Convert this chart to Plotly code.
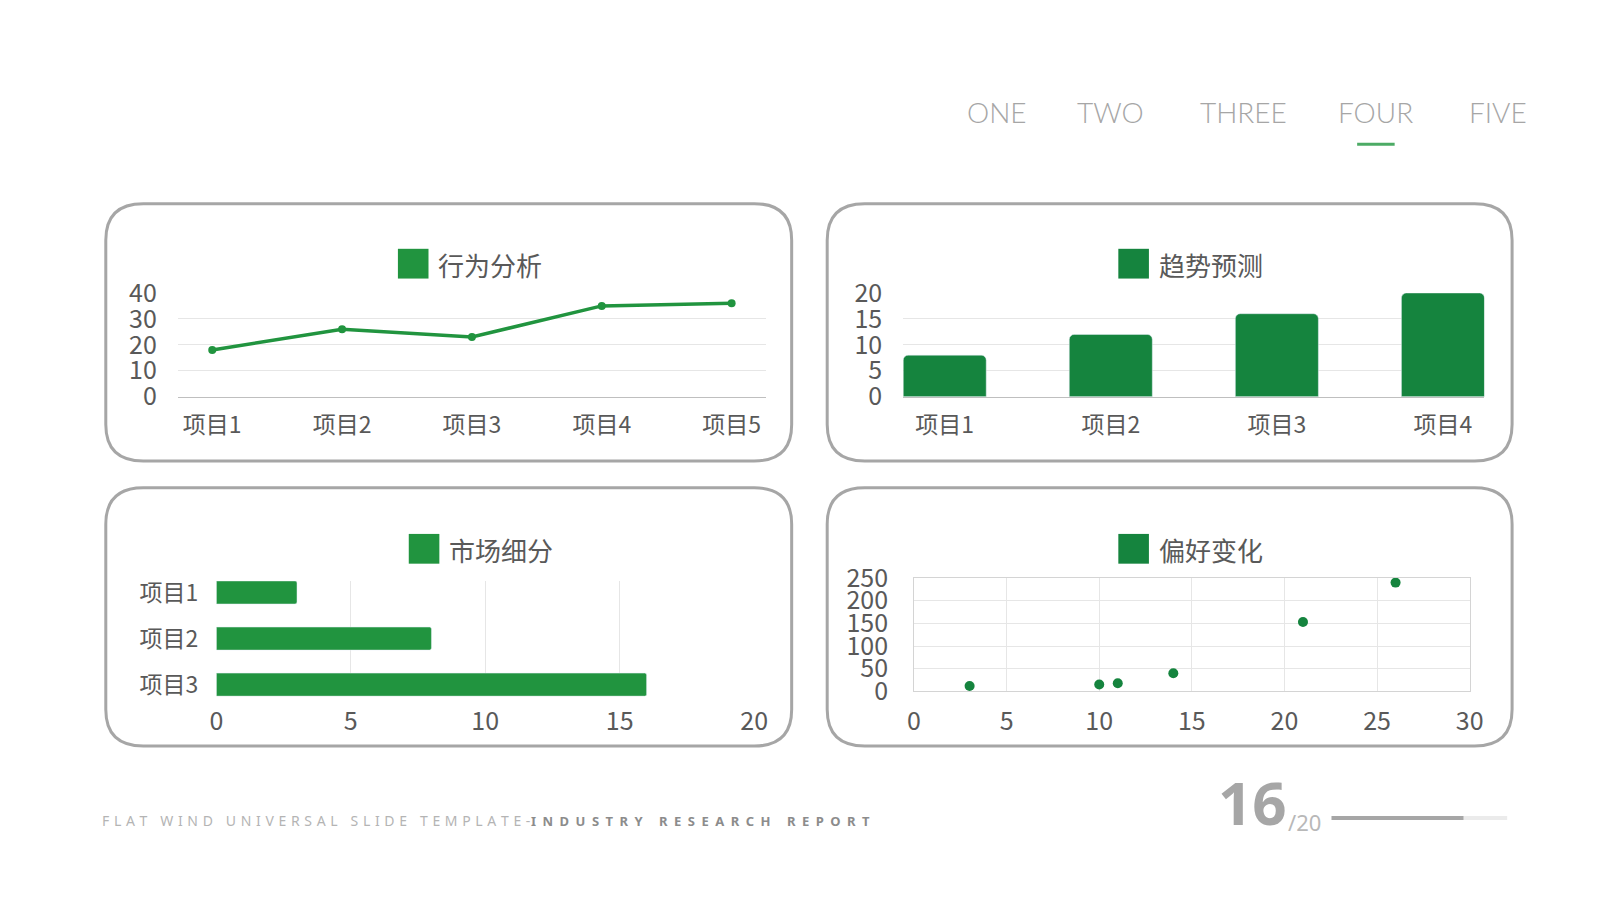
import plotly.graph_objects as go

W, H = 1600, 900

# data
line_cats = ["项目1", "项目2", "项目3", "项目4", "项目5"]
line_vals = [18, 26, 23, 35, 36]

col_cats = ["项目1", "项目2", "项目3", "项目4"]
col_vals = [8, 12, 16, 20]

bar_cats = ["项目1", "项目2", "项目3"]
bar_vals = [3, 8, 16]

scatter_x = [3, 10, 11, 14, 21, 26]
scatter_y = [12, 15, 18, 40, 153, 240]

panel_titles = ["行为分析", "趋势预测", "市场细分", "偏好变化"]
nav_items = ["ONE", "TWO", "THREE", "FOUR", "FIVE"]
active_nav = "FOUR"
page_no, page_total = "16", "/20"
footer_light = "FLAT WIND UNIVERSAL SLIDE TEMPLATE-"
footer_bold = "INDUSTRY RESEARCH REPORT"

GREEN = "#21943f"
DARK = "#15843e"
GRID = "#e6e6e6"
AXIS = "#bfbfbf"
TXT = "#595959"
BORDER = "#a6a6a6"
CJK = "Noto Sans CJK SC"


def px(x):
    return x / W


def py(y):
    return 1 - y / H


def round_box(x0, y0, x1, y1, r=38):
    # rounded rectangle in paper units, pixel inputs
    rx, ry = r / W, r / H
    a, b, c, d = px(x0), px(x1), py(y0), py(y1)
    return (f"M {a + rx},{c} L {b - rx},{c} Q {b},{c} {b},{c - ry} "
            f"L {b},{d + ry} Q {b},{d} {b - rx},{d} L {a + rx},{d} "
            f"Q {a},{d} {a},{d + ry} L {a},{c - ry} Q {a},{c} {a + rx},{c} Z")


fig = go.Figure()

fig.add_trace(go.Scatter(x=line_cats, y=line_vals, mode="lines+markers",
                         line=dict(color=GREEN, width=3.5),
                         marker=dict(color=GREEN, size=8),
                         xaxis="x", yaxis="y"))
fig.add_trace(go.Bar(x=col_cats, y=col_vals,
                     marker=dict(color=DARK, cornerradius=5),
                     xaxis="x2", yaxis="y2"))
fig.add_trace(go.Bar(x=bar_vals, y=bar_cats, orientation="h",
                     marker=dict(color=GREEN, cornerradius=2),
                     xaxis="x3", yaxis="y3"))
fig.add_trace(go.Scatter(x=scatter_x, y=scatter_y, mode="markers",
                         marker=dict(color=DARK, size=10),
                         xaxis="x4", yaxis="y4"))

cat_font = dict(family=CJK, size=23, color=TXT)
num_font = dict(family=CJK, size=25, color=TXT)
base = dict(ticks="", zeroline=False, fixedrange=True)

fig.update_layout(
    width=W, height=H,
    margin=dict(l=0, r=0, t=0, b=0),
    paper_bgcolor="white", plot_bgcolor="white",
    showlegend=False, bargap=0.5,
    xaxis=dict(base, domain=[px(165), px(761)], showgrid=False,
               showline=True, linecolor=AXIS, tickfont=cat_font,
               ticklabelstandoff=8),
    yaxis=dict(base, domain=[py(384), py(276)], range=[0, 40], dtick=10,
               gridcolor=GRID, tickfont=num_font, ticklabelstandoff=20),
    xaxis2=dict(base, domain=[px(900), px(1489)], range=[-0.25, 3.25],
                showgrid=False, showline=True, linecolor=AXIS,
                tickfont=cat_font, ticklabelstandoff=8, anchor="y2"),
    yaxis2=dict(base, domain=[py(384), py(276)], range=[0, 20], dtick=5,
                gridcolor=GRID, tickfont=num_font, ticklabelstandoff=20,
                anchor="x2"),
    xaxis3=dict(base, domain=[px(204), px(749)], range=[0, 20], dtick=5,
                gridcolor=GRID, tickfont=num_font, ticklabelstandoff=8,
                anchor="y3"),
    yaxis3=dict(base, domain=[py(696), py(576)], range=[2.25, -0.25],
                showgrid=False, tickfont=cat_font, ticklabelstandoff=17,
                anchor="x3"),
    xaxis4=dict(base, domain=[px(911), px(1474)], range=[0, 30], dtick=5,
                gridcolor=GRID, showline=True, linecolor="#d4d4d4",
                mirror=True, tickfont=num_font, ticklabelstandoff=8,
                anchor="y4"),
    yaxis4=dict(base, domain=[py(691), py(573)], range=[0, 250], dtick=50,
                gridcolor=GRID, showline=True, linecolor="#d4d4d4",
                mirror=True, tickfont=num_font, ticklabelstandoff=20,
                anchor="x4"),
)

shapes = []
annotations = []

# panel frames and legend keys
boxes = [(92, 183, 787, 451), (823, 183, 1517, 451),
         (92, 479, 787, 748), (823, 479, 1517, 748)]
keys = [(388, 230, GREEN), (1118, 230, DARK), (399, 527, GREEN), (1118, 527, DARK)]
for (x0, y0, x1, y1), (kx, ky, kc), title in zip(boxes, keys, panel_titles):
    shapes.append(dict(type="path", xref="paper", yref="paper",
                       path=round_box(x0, y0, x1, y1),
                       line=dict(color=BORDER, width=3), layer="below"))
    shapes.append(dict(type="rect", xref="paper", yref="paper",
                       x0=px(kx), x1=px(kx + 31), y0=py(ky + 31), y1=py(ky),
                       fillcolor=kc, line=dict(width=0)))
    annotations.append(dict(text=title, xref="paper", yref="paper",
                            x=px(kx + 39), y=py(ky + 16), xanchor="left",
                            yanchor="middle", showarrow=False,
                            font=dict(family=CJK, size=26, color=TXT)))

# top navigation
nav_x = [995, 1110, 1245, 1379, 1503]
for name, cx in zip(nav_items, nav_x):
    annotations.append(dict(text=name, xref="paper", yref="paper",
                            x=px(cx), y=py(88), xanchor="center",
                            yanchor="middle", showarrow=False,
                            font=dict(family="Lato", size=28, color=BORDER,
                                      weight=300)))
    if name == active_nav:
        shapes.append(dict(type="line", xref="paper", yref="paper",
                           x0=px(cx - 19), x1=px(cx + 19),
                           y0=py(121), y1=py(121),
                           line=dict(color="#4cab65", width=3)))

# footer, letter spacing done with narrow unicode spaces
annotations.append(dict(text="\u2004".join(footer_light),
                        xref="paper", yref="paper",
                        x=px(86), y=py(826), xanchor="left", yanchor="middle",
                        showarrow=False,
                        font=dict(family="Noto Sans", size=14, color="#b4b4b4")))
annotations.append(dict(text="<b>" + "\u2004\u2009".join(footer_bold) + "</b>",
                        xref="paper", yref="paper",
                        x=px(521), y=py(826), xanchor="left", yanchor="middle",
                        showarrow=False,
                        font=dict(family="Noto Sans", size=13, color="#8c8c8c")))
annotations.append(dict(text="<b>" + page_no + "</b>", xref="paper", yref="paper",
                        x=px(1291), y=py(806), xanchor="right", yanchor="middle",
                        showarrow=False,
                        font=dict(family="Noto Sans", size=60, color=BORDER)))
annotations.append(dict(text=page_total, xref="paper", yref="paper",
                        x=px(1288), y=py(827), xanchor="left", yanchor="middle",
                        showarrow=False,
                        font=dict(family="Noto Sans", size=22, color="#b8b8b8")))
shapes.append(dict(type="line", xref="paper", yref="paper",
                   x0=px(1334), x1=px(1468), y0=py(823), y1=py(823),
                   line=dict(color=BORDER, width=4)))
shapes.append(dict(type="line", xref="paper", yref="paper",
                   x0=px(1468), x1=px(1512), y0=py(823), y1=py(823),
                   line=dict(color="#ebebeb", width=4)))

fig.update_layout(shapes=shapes, annotations=annotations)

fig.write_html("out.html")
